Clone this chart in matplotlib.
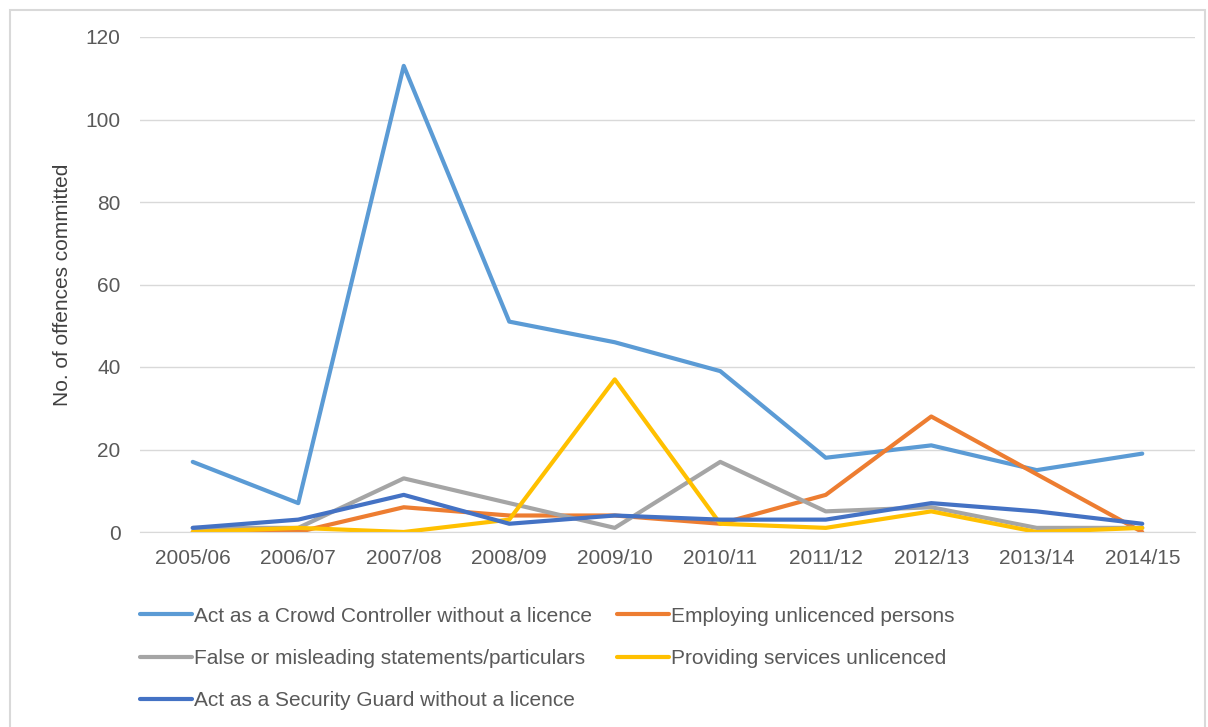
import matplotlib.pyplot as plt
from matplotlib.patches import Rectangle

# --- data ---
years = ["2005/06", "2006/07", "2007/08", "2008/09", "2009/10",
         "2010/11", "2011/12", "2012/13", "2013/14", "2014/15"]
crowd_controller = [17, 7, 113, 51, 46, 39, 18, 21, 15, 19]
employing_unlicenced = [0, 0, 6, 4, 4, 2, 9, 28, 14, 0]
false_statements = [1, 1, 13, 7, 1, 17, 5, 6, 1, 1]
providing_services = [0, 1, 0, 3, 37, 2, 1, 5, 0, 1]
security_guard = [1, 3, 9, 2, 4, 3, 3, 7, 5, 2]

series_names = ["Act as a Crowd Controller without a licence",
                "Employing unlicenced persons",
                "False or misleading statements/particulars",
                "Providing services unlicenced",
                "Act as a Security Guard without a licence"]
series_colors = ["#5B9BD5", "#ED7D31", "#A5A5A5", "#FFC000", "#4472C4"]

plt.rcParams['font.family'] = ['Liberation Sans', 'DejaVu Sans']

fig = plt.figure(figsize=(12.08, 7.27), dpi=100)
ax = fig.add_axes([140 / 1208, 1 - 532 / 727, (1195 - 140) / 1208, (532 - 37) / 727])

# light frame around the whole chart
fig.patches.append(Rectangle((10 / 1208, -0.05), 1195 / 1208, 1.05 - 10 / 727,
                             transform=fig.transFigure, fill=False,
                             edgecolor="#D9D9D9", linewidth=1.5))

x = list(range(len(years)))
all_series = [crowd_controller, employing_unlicenced, false_statements,
              providing_services, security_guard]
lines = []
for vals, name, col in zip(all_series, series_names, series_colors):
    ln, = ax.plot(x, vals, color=col, lw=3, label=name, solid_joinstyle='round',
                  solid_capstyle='round')
    lines.append(ln)

ax.set_xlim(-0.5, len(years) - 0.5)
ax.set_ylim(0, 120)
ax.set_yticks(range(0, 121, 20))
ax.set_xticks(x)
ax.set_xticklabels(years)
ax.grid(axis='y', color="#D9D9D9", lw=1)
ax.set_axisbelow(True)
for s in ["top", "right", "left"]:
    ax.spines[s].set_visible(False)
ax.spines["bottom"].set_color("#D9D9D9")
ax.tick_params(axis='both', length=0, labelsize=15, colors="#595959")
ax.tick_params(axis='x', pad=12)
ax.tick_params(axis='y', pad=14)
ax.set_ylabel("No. of offences committed", fontsize=15, color="#404040", labelpad=10)

# legend: column 1 gets items 0,2,4 and column 2 gets items 1,3
order = [0, 2, 4, 1, 3]
fig.legend([lines[i] for i in order], [series_names[i] for i in order],
           ncol=2, loc='upper left', bbox_to_anchor=(121 / 1208, 1 - 588 / 727),
           frameon=False, fontsize=15, labelcolor="#595959",
           handlelength=2.5, handletextpad=0.1, columnspacing=1.2,
           labelspacing=1.12)

fig.savefig("out.png", dpi=100)
